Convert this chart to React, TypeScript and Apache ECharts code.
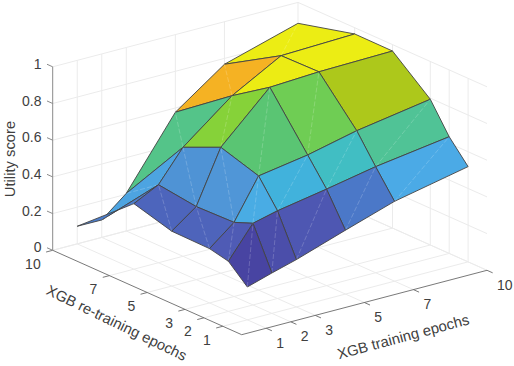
import React, { useEffect, useRef } from "react";
import * as echarts from "echarts";

// Data
const xTicks = [1, 2, 3, 5, 7, 10];
const yTicks = [1, 2, 3, 5, 7, 10];
const zTicks = [0, 0.2, 0.4, 0.6, 0.8, 1];
const zTickLabels = ["0", "0.2", "0.4", "0.6", "0.8", "1"];
const xTitle = "XGB training epochs";
const yTitle = "XGB re-training epochs";
const zTitle = "Utility score";
// rows follow yTicks, columns follow xTicks
const utilityY1 = [0.179, 0.22, 0.258, 0.348, 0.435, 0.519];
const utilityY2 = [0.273, 0.445, 0.478, 0.526, 0.578, 0.636];
const utilityY3 = [0.296, 0.404, 0.622, 0.666, 0.728, 0.794];
const utilityY5 = [0.299, 0.398, 0.686, 0.943, 0.957, 0.965];
const utilityY7 = [0.357, 0.425, 0.594, 0.805, 0.953, 0.966];
const utilityY10 = [0.096, 0.095, 0.205, 0.577, 0.768, 0.886];
const utility = [utilityY1, utilityY2, utilityY3, utilityY5, utilityY7, utilityY10];

// Colour ramp of the surface (position in the value range, r, g, b)
const ramp = [
  [0.0, 70, 60, 155],
  [0.1, 72, 68, 162],
  [0.2, 79, 90, 180],
  [0.29, 75, 120, 200],
  [0.355, 80, 150, 215],
  [0.39, 75, 170, 230],
  [0.44, 65, 178, 220],
  [0.495, 65, 190, 195],
  [0.555, 80, 195, 150],
  [0.605, 90, 197, 115],
  [0.655, 110, 205, 85],
  [0.68, 135, 210, 55],
  [0.725, 172, 200, 27],
  [0.815, 245, 178, 35],
  [0.9, 240, 210, 30],
  [0.97, 236, 236, 20],
  [1.0, 236, 238, 20],
];

// Faces (column, row) on which the seam of the two triangles does not show
const seamlessFaces = [[4, 2], [4, 3], [3, 3]];

// View of the 3-D box on the page
const view = { ox: 241.7, oy: 334.7, xx: 24.53, xy: -6.44, yx: -18.9, yy: -8.44, zz: -183.5 };
const project = (x: number, y: number, z: number) => [
  view.ox + view.xx * x + view.yx * y,
  view.oy + view.xy * x + view.yy * y + view.zz * z,
];

const zFlat = utility.flat();
const zMin = Math.min(...zFlat);
const zMax = Math.max(...zFlat);
function colorOf(z: number) {
  const t = (z - zMin) / (zMax - zMin);
  for (let k = 1; k < ramp.length; k++) {
    if (t <= ramp[k][0]) {
      const a = ramp[k - 1];
      const b = ramp[k];
      const f = (t - a[0]) / (b[0] - a[0]);
      const c = [1, 2, 3].map((n) => Math.round(a[n] + (b[n] - a[n]) * f));
      return `rgb(${c[0]},${c[1]},${c[2]})`;
    }
  }
  return "rgb(236,238,20)";
}

type P3 = [number, number, number];
const XMAX = 10;
const YMAX = 10;

const gridSegs: [P3, P3][] = [];
for (const x of xTicks) {
  gridSegs.push([[x, 0, 0], [x, YMAX, 0]]);
  if (x !== XMAX) gridSegs.push([[x, YMAX, 0], [x, YMAX, 1]]);
}
for (const y of yTicks) {
  gridSegs.push([[0, y, 0], [XMAX, y, 0]]);
  if (y !== YMAX) gridSegs.push([[XMAX, y, 0], [XMAX, y, 1]]);
}
gridSegs.push([[XMAX, YMAX, 0], [XMAX, YMAX, 1]]);
for (const z of zTicks) {
  gridSegs.push([[0, YMAX, z], [XMAX, YMAX, z]]);
  gridSegs.push([[XMAX, YMAX, z], [XMAX, 0, z]]);
}

const axisSegs: [P3, P3][] = [
  [[0, 0, 0], [XMAX, 0, 0]],
  [[0, 0, 0], [0, YMAX, 0]],
];
for (const x of xTicks) axisSegs.push([[x, 0, 0], [x, -0.3, 0]]);
for (const y of yTicks) axisSegs.push([[0, y, 0], [-0.27, y, 0]]);
const zAxisSegs: [P3, P3][] = [[[0, YMAX, 0], [0, YMAX, 1]]];
for (const z of zTicks) zAxisSegs.push([[0, YMAX, z], [0, YMAX + 0.3, z]]);

// Faces, back to front
const faces: { i: number; j: number }[] = [];
for (let j = yTicks.length - 2; j >= 0; j--) {
  for (let i = xTicks.length - 2; i >= 0; i--) faces.push({ i, j });
}

type Label = { text: string; p: number[]; align: string; rot: number; size: number };
const labels: Label[] = [];
zTicks.forEach((z, k) => {
  const p = project(0, YMAX, z);
  labels.push({ text: zTickLabels[k], p: [p[0] - 11.2, p[1] - 3], align: "right", rot: 0, size: 14 });
});
yTicks.forEach((y) => {
  const p = project(0, y, 0);
  labels.push({ text: String(y), p: [p[0] - 12, p[1] + 13.3], align: "right", rot: 0, size: 14 });
});
xTicks.forEach((x) => {
  const p = project(x, 0, 0);
  labels.push({ text: String(x), p: [p[0] + 10, p[1] + 14.5], align: "left", rot: 0, size: 14 });
});
labels.push({ text: xTitle, p: [403.2, 336.8], align: "center", rot: 15, size: 14.8 });
labels.push({ text: yTitle, p: [116.7, 323], align: "center", rot: -26, size: 14.8 });
labels.push({ text: zTitle, p: [10, 159], align: "center", rot: 90, size: 14.8 });

const segRender = (segs: [P3, P3][], stroke: string, lineWidth: number) => (params: any, api: any) => {
  const [a, b] = segs[params.dataIndex];
  const p = api.coord(project(a[0], a[1], a[2]));
  const q = api.coord(project(b[0], b[1], b[2]));
  return {
    type: "line",
    shape: { x1: p[0], y1: p[1], x2: q[0], y2: q[1] },
    style: { stroke, lineWidth, fill: "none" },
  };
};

const faceRender = (params: any, api: any) => {
  const { i, j } = faces[params.dataIndex];
  const corners: [number, number][] = [
    [i, j],
    [i + 1, j],
    [i + 1, j + 1],
    [i, j + 1],
  ];
  const pts = corners.map(([a, b]) => api.coord(project(xTicks[a], yTicks[b], utility[b][a])));
  const seamless = seamlessFaces.some(([a, b]) => a === i && b === j);
  return {
    type: "group",
    children: [
      {
        type: "polygon",
        shape: { points: pts },
        style: { fill: colorOf(utility[j][i]), stroke: "#434343", lineWidth: 0.9, lineJoin: "round" },
      },
      {
        type: "line",
        shape: { x1: pts[0][0], y1: pts[0][1], x2: pts[2][0], y2: pts[2][1] },
        style: {
          stroke: seamless ? "rgba(255,255,255,0)" : "rgba(255,255,255,0.24)",
          lineWidth: 0.8,
          lineDash: [5, 2],
          fill: "none",
        },
      },
    ],
  };
};

const labelRender = (params: any, api: any) => {
  const l = labels[params.dataIndex];
  const p = api.coord(l.p);
  return {
    type: "text",
    x: p[0],
    y: p[1],
    rotation: (l.rot * Math.PI) / 180,
    style: {
      text: l.text,
      fill: "#404040",
      font: `${l.size}px "Liberation Sans"`,
      align: l.align,
      verticalAlign: "middle",
    },
  };
};

const customSeries = (count: number, renderItem: any) => ({
  type: "custom",
  coordinateSystem: "cartesian2d",
  silent: true,
  clip: false,
  data: Array.from({ length: count }, (_, k) => [k, k]),
  encode: { x: 0, y: 1 },
  renderItem,
});

export default function App() {
  const ref = useRef<HTMLDivElement>(null);
  useEffect(() => {
    const chart = echarts.init(ref.current!, undefined, { renderer: "svg" });
    chart.setOption({
      animation: false,
      backgroundColor: "#ffffff",
      grid: { left: 0, top: 0, width: 514, height: 366 },
      xAxis: { type: "value", min: 0, max: 514, show: false },
      yAxis: { type: "value", min: 0, max: 366, inverse: true, show: false },
      series: [
        customSeries(gridSegs.length, segRender(gridSegs, "#ebebeb", 1)),
        customSeries(axisSegs.length, segRender(axisSegs, "#6a6a6a", 0.9)),
        customSeries(zAxisSegs.length, segRender(zAxisSegs, "#8a8a8a", 1)),
        customSeries(faces.length, faceRender),
        customSeries(labels.length, labelRender),
      ],
    });
    return () => chart.dispose();
  }, []);
  return <div ref={ref} style={{ position: "fixed", left: 0, top: 0, width: 514, height: 366 }} />;
}
